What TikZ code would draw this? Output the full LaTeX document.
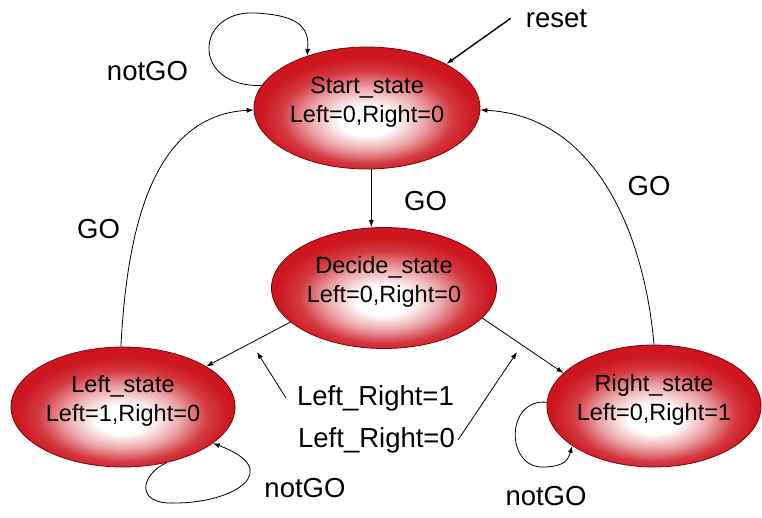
\documentclass[tikz,border=0pt]{standalone}
\usepackage{fontspec}
\setmainfont{Liberation Sans}
\usetikzlibrary{shapes.geometric,arrows.meta}
\definecolor{sred}{RGB}{205,22,32}
\definecolor{sborder}{RGB}{130,0,8}
\pgfdeclareradialshading{stateshade}{\pgfpoint{0bp}{-6bp}}{color(0bp)=(white); color(6bp)=(white); color(13bp)=(sred!40); color(19bp)=(sred!85); color(24bp)=(sred); color(50bp)=(sred)}
\newcommand\tstr{\rule{0pt}{18pt}}
\newcommand\bstr{\rule[-18pt]{0pt}{18pt}}
\tikzset{
  state/.style={ellipse, draw=sborder, line width=0.8pt, shade, shading=stateshade,
    minimum height=122pt, inner sep=0pt, inner xsep=-20pt, align=center,
    font=\fontsize{23.5}{29}\selectfont},
  lbl/.style={font=\fontsize{27.5}{33}\selectfont, inner sep=6pt, anchor=base},
  arr/.style={draw=black, line width=0.8pt, -{Latex[length=7pt,width=5pt]}},
}
\begin{document}
\begin{tikzpicture}[x=1pt,y=1pt]
\useasboundingbox (0,0) rectangle (762,-517);
\fill[white] (0,0) rectangle (762,-517);
% states
\node[state, minimum width=226pt] (start) at (367,-108) {\tstr Start\_state\\Left=0,Right=0\bstr};
\node[state, minimum width=225pt, minimum height=121pt] (decide) at (384,-288) {\tstr Decide\_state\\Left=0,Right=0\bstr};
\node[state, minimum width=224pt, minimum height=120pt] (left) at (123,-407) {\tstr Left\_state\\Left=1,Right=0\bstr};
\node[state, minimum width=214pt] (right) at (654,-406) {\tstr Right\_state\\Left=0,Right=1\bstr};
% labels
\node[lbl, inner xsep=15pt] (reset) at (556.5,-27) {reset};
\node[lbl] (ng1) at (147.5,-80) {notGO};
\node[lbl] (go1) at (425.5,-210) {GO};
\node[lbl] (go2) at (98.5,-238) {GO};
\node[lbl] (go3) at (649,-195) {GO};
\node[lbl, inner xsep=11pt] (lr1) at (375.5,-405) {Left\_Right=1};
\node[lbl, inner xsep=3pt] (lr0) at (376.5,-447) {Left\_Right=0};
\node[lbl] (ng2) at (305,-497) {notGO};
\node[lbl] (ng3) at (546,-505) {notGO};
\coordinate (p1) at (257,-352);
\coordinate (p0) at (517,-352);
% connectors
\draw[arr, line width=1.4pt] (reset.west) -- (start.29);
\draw[arr] (start.168) .. controls (190,-87) and (195,-10) .. (255,-13)
  .. controls (295,-15) and (310,-25) .. (start.139);
\draw[arr] (start.-86) -- (start.-86 |- decide.north);
\draw[arr] (decide.200) -- (left.26);
\draw[arr] (decide.-17) -- (right.160);
\draw[arr] (left.92) to[out=87,in=183] (start.181);
\draw[arr] (right.north) to[out=95,in=-3] (start.-1);
\draw[arr] (left.-52) .. controls (140,-475) and (135,-505) .. (175,-503)
  .. controls (235,-503) and (285,-470) .. (left.-22);
\draw[arr] (right.178) .. controls (505,-398) and (505,-470) .. (545,-467)
  .. controls (565,-466) and (568,-460) .. (right.206);
\draw[arr] (lr1.west) -- (p1);
\draw[arr] (lr0.east) -- (p0);
\end{tikzpicture}
\end{document}
